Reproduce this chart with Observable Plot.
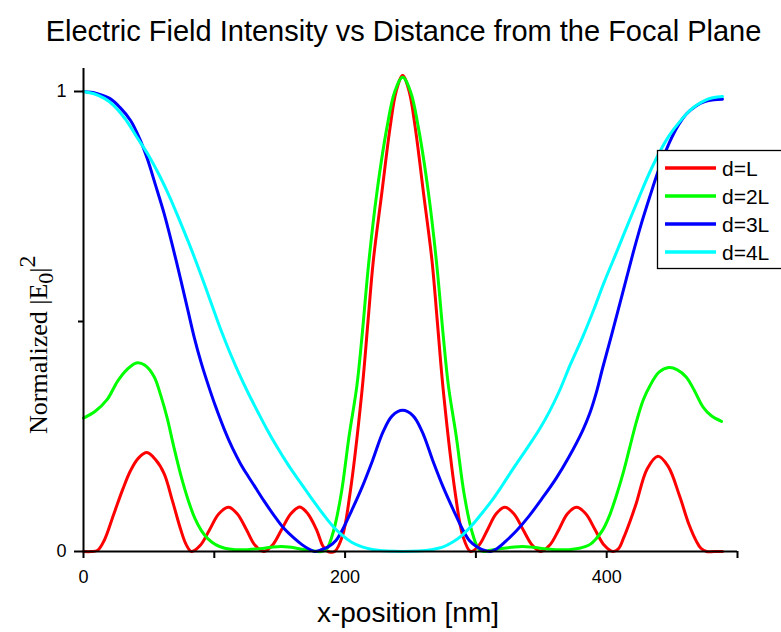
<!DOCTYPE html>
<html><head><meta charset="utf-8">
<script src="https://cdn.jsdelivr.net/npm/d3@7"></script>
<script src="https://cdn.jsdelivr.net/npm/@observablehq/plot@0.6"></script>
<style>
html,body{margin:0;padding:0;background:#fff;}
#wrap{position:relative;width:781px;height:632px;overflow:hidden;}
#wrap svg{position:absolute;left:0;top:0;}
</style></head><body>
<div id="wrap"></div>
<script>
// ---- data (x in nm, y normalized) ----
const seriesNames = ["d=L", "d=2L", "d=3L", "d=4L"];
const seriesColors = ["#ff0000", "#00ff00", "#0000ff", "#00ffff"];

const dL = [[0,0],[6,0],[11,0.003],[16,0.025],[23,0.08],[30,0.135],[36,0.176],[42,0.203],[48.5,0.215],[55,0.2],[61.7,0.169],[68,0.11],[74.5,0.046],[78.5,0.015],[82.5,0],
[89.5,0.014],[96.5,0.048],[103.5,0.082],[111,0.096],[117.5,0.082],[124.5,0.048],[131,0.014],[138,0],
[144.5,0.014],[151.5,0.048],[158.5,0.082],[165.3,0.097],[171.5,0.082],[178.5,0.045],[183,0.012],[187,0],[192,0],
[198,0.034],[203.7,0.125],[212.7,0.343],[217.5,0.5],[221.6,0.633],[228,0.778],[234.4,0.922],[239,1.0],[244,1.035],[249,1.0],[253.6,0.922],[260,0.778],[266.4,0.633],[270.5,0.5],[275.3,0.343],[284.3,0.125],[290,0.034],[296,0],
[302.5,0.014],[309,0.048],[315.5,0.082],[322.2,0.096],[329,0.082],[336,0.048],[343,0.014],[349.5,0],
[356.5,0.014],[363.5,0.048],[370,0.082],[377,0.096],[384,0.082],[391,0.048],[398,0.014],[404.6,0],
[409,0.006],[413,0.03],[418,0.067],[422.5,0.104],[431,0.18],[439.2,0.207],[447,0.185],[455.8,0.12],[463,0.058],[468.6,0.022],[472,0.007],[476.3,0],[482,0],[488.5,0]];

const d2L = [[0,0.29],[9,0.305],[18,0.33],[26,0.37],[33,0.395],[40.4,0.41],[47,0.405],[54,0.38],[59,0.34],[64,0.29],[69,0.228],[74.5,0.165],[80,0.112],[85,0.073],[90,0.046],[95,0.028],[101,0.015],[108,0.007],[116,0.004],[125,0.004],[135,0.006],[143,0.009],[151,0.011],[159,0.009],[167,0.005],[174,0.002],[182,0],
[186,0.006],[191,0.043],[197,0.125],[203,0.25],[209,0.36],[213,0.47],[217.8,0.62],[224.2,0.778],[232,0.922],[238,1.0],[244,1.031],[250,1.0],[256,0.922],[263.8,0.778],[270.2,0.62],[275,0.47],[279,0.36],[285,0.25],[291,0.125],[297,0.043],[302,0.006],[306,0],
[310,0.002],[318,0.006],[327,0.009],[335.5,0.011],[344,0.009],[352,0.006],[361,0.004],[371,0.004],[379,0.007],[386.5,0.014],[392,0.028],[397,0.047],[402,0.077],[407,0.118],[412.5,0.17],[417.5,0.225],[423,0.285],[428,0.33],[433,0.36],[440,0.39],[447.6,0.40],[454,0.395],[460.9,0.379],[467,0.35],[473.7,0.314],[480,0.295],[487.8,0.283]];

const d3L = [[0,1.0],[10,0.996],[20,0.985],[28,0.965],[36,0.937],[43,0.897],[49,0.852],[55,0.797],[61.7,0.734],[68,0.665],[74.5,0.589],[80,0.522],[84.7,0.465],[90,0.41],[95,0.365],[101,0.315],[107.7,0.265],[114,0.224],[120,0.191],[126,0.163],[131,0.141],[138,0.11],[146,0.077],[153,0.051],[161,0.029],[167,0.015],[172,0.006],[176.8,0],
[181,0.003],[187,0.01],[193,0.024],[198.5,0.05],[205,0.089],[213,0.14],[221,0.198],[229,0.26],[236,0.295],[244,0.307],[252,0.295],[259,0.26],[267,0.198],[275,0.14],[283,0.089],[289.5,0.05],[295,0.024],[301,0.01],[306,0.003],[311.2,0],
[316,0.006],[322.7,0.022],[331,0.045],[340.6,0.077],[350,0.113],[361.1,0.158],[371,0.205],[381.6,0.263],[387,0.3],[392,0.345],[397,0.4],[403.3,0.466],[412,0.56],[420,0.647],[426,0.708],[432.8,0.77],[440,0.832],[448.1,0.89],[455,0.928],[460.9,0.951],[468,0.968],[475,0.978],[482,0.982],[488.5,0.983]];

const d4L = [[0,1.0],[8,0.995],[16,0.985],[23,0.97],[32,0.94],[41,0.9],[50,0.86],[58,0.818],[66,0.77],[74,0.716],[82,0.66],[90,0.6],[98,0.537],[105,0.482],[112,0.432],[119,0.386],[126,0.344],[133,0.305],[140,0.267],[148,0.227],[157,0.186],[166,0.149],[175,0.113],[183,0.082],[190,0.057],[197,0.037],[205,0.02],[213,0.01],[222,0.004],[232,0.001],[244,0],
[256,0.001],[266,0.004],[275,0.01],[282,0.02],[289.4,0.035],[297,0.057],[304,0.081],[312,0.11],[320,0.143],[328,0.178],[338,0.22],[348,0.263],[356,0.303],[364,0.35],[372,0.405],[381.6,0.466],[390,0.525],[398,0.585],[407,0.647],[416,0.71],[425,0.772],[433,0.825],[440.4,0.868],[448,0.905],[456,0.935],[463,0.957],[468.6,0.97],[476,0.982],[482,0.987],[488.5,0.989]];

const xMajorTicks = [0, 200, 400];
const xMinorTicks = [100, 300, 500];
const yMajorTicks = [0, 1];
const yMinorTicks = [0.5];

const titleText = "Electric Field Intensity vs Distance from the Focal Plane";
const xLabelText = "x-position [nm]";

// ---- build ----
const seriesData = [dL, d2L, d3L, d4L];
const rows = seriesData.map((pts, i) => pts.map(([x, y]) => ({x, y, s: seriesNames[i]})));

const sans = "'Liberation Sans', Arial, Helvetica, sans-serif";
const chart = Plot.plot({
  width: 781, height: 632,
  marginTop: 68, marginRight: 44, marginBottom: 81, marginLeft: 83,
  style: {fontFamily: sans, fontSize: "18px", color: "#000", background: "transparent", overflow: "visible"},
  x: {domain: [0, 500]},
  y: {domain: [0, 1.05]},
  color: {domain: seriesNames, range: seriesColors},
  marks: [
    ...rows.map(r => Plot.line(r, {x: "x", y: "y", stroke: "s", strokeWidth: 3, curve: "catmull-rom"})),
    Plot.ruleY([0], {stroke: "#000", strokeWidth: 2}),
    Plot.ruleX([0], {stroke: "#000", strokeWidth: 2}),
    Plot.axisX({ticks: xMajorTicks, tickSize: 7, tickPadding: 12, fontSize: 18, strokeWidth: 2, label: null, tickFormat: d => String(d)}),
    Plot.axisX({ticks: xMinorTicks, tickSize: 7, strokeWidth: 2, label: null, tickFormat: () => ""}),
    Plot.axisY({ticks: yMajorTicks, tickSize: 9, tickPadding: 8, fontSize: 18, strokeWidth: 2, label: null, tickFormat: d => String(d)}),
    Plot.axisY({ticks: yMinorTicks, tickSize: 5, strokeWidth: 2, label: null, tickFormat: () => ""})
  ]
});
const wrap = document.getElementById("wrap");
wrap.appendChild(chart);

// ---- titles and legend overlay ----
const ov = d3.select(wrap).append("svg")
  .attr("width", 781).attr("height", 632)
  .style("pointer-events", "none");

ov.append("text").attr("x", 403.5).attr("y", 41).attr("text-anchor", "middle")
  .style("font-family", sans).style("font-size", "29px").attr("fill", "#000").text(titleText);

ov.append("text").attr("x", 408).attr("y", 622).attr("text-anchor", "middle")
  .style("font-family", sans).style("font-size", "28px").attr("fill", "#000").text(xLabelText);

const yl = ov.append("text").attr("transform", "translate(47,434) rotate(-90)")
  .attr("text-anchor", "start")
  .style("font-family", "'Liberation Serif', 'Times New Roman', serif").style("font-size", "26px").attr("fill", "#000");
yl.append("tspan").text("Normalized |E");
yl.append("tspan").attr("dy", 6).style("font-size", "22px").text("0");
yl.append("tspan").attr("dy", -6).text("|");
yl.append("tspan").attr("dy", -12).style("font-size", "24px").text("2");

const lg = ov.append("g");
lg.append("rect").attr("x", 657.5).attr("y", 150.5).attr("width", 140).attr("height", 118)
  .attr("fill", "#fff").attr("stroke", "#000").attr("stroke-width", 1.3);
seriesNames.forEach((n, i) => {
  const y = 168 + i * 28;
  lg.append("line").attr("x1", 665).attr("x2", 716).attr("y1", y).attr("y2", y)
    .attr("stroke", seriesColors[i]).attr("stroke-width", 3.5);
  lg.append("text").attr("x", 722).attr("y", y + 7.5)
    .style("font-family", sans).style("font-size", "21px").attr("fill", "#000").text(n);
});
</script>
</body></html>
